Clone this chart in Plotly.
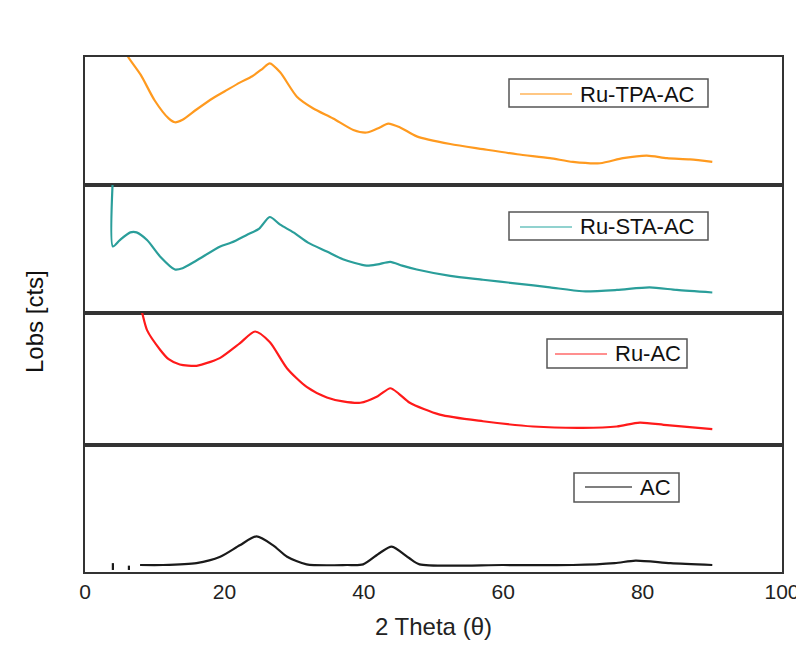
import plotly.graph_objects as go
from plotly.subplots import make_subplots

# ---- data (y in arbitrary counts, each panel 0-100) ----
tpa_x = [5.8, 6.2, 8, 10, 12, 12.9, 14, 16, 18.4, 20, 22.2, 24, 25.5, 26.5, 28, 30.4, 32.7,
         35.6, 38.5, 40.4, 42.3, 43.5, 45.2, 47.6, 52.4, 57.1, 62, 66.7, 70, 73.9, 77.2,
         80.6, 83.5, 86.8, 90]
tpa_y = [105, 100, 86, 66, 52, 49, 51, 59, 68, 73, 80, 85, 91, 95, 88, 69, 60,
         52, 43, 41, 45, 48, 45, 38, 32, 28, 24, 21, 18, 17, 21,
         23, 21, 20, 18]

sta_x = [3.95, 4.0, 5, 6.5, 7.4, 8.9, 10.8, 12.9, 14, 16, 19.4, 21, 23.2, 25, 26.5, 28,
         29.9, 32, 34.7, 37, 40.4, 42, 43.8, 45.5, 47.6, 52.4, 57.1, 62, 66.7, 71.4,
         76.3, 81, 84.9, 90]
sta_y = [100, 52, 57, 63, 63, 57, 44, 34, 35, 41, 52, 55, 61, 66, 75, 69,
         63, 55, 48, 42, 37, 38, 40, 37, 34, 29, 26, 23, 20, 17,
         18, 20, 18, 16]

ru_x = [8.0, 8.2, 8.9, 10.8, 12, 13.6, 16, 18, 19.4, 22.2, 24.4, 26.5, 29, 31.8, 34.7,
        37, 39.5, 42, 43.8, 45, 46.6, 50.9, 57.1, 64.3, 71.4, 76.3, 79.6, 83.5, 90]
ru_y = [103, 100, 87, 72, 65, 61, 60, 63, 66, 77, 86, 78, 58, 44, 36,
        33, 32, 37, 43, 39, 32, 23, 18, 14, 13, 14, 17, 15, 12]

ac_x = [4.0, 4.0, None, 6.3, 6.3, None, 7.9, 11.2, 16, 19.4, 22.2, 24.6, 27, 29, 31.8,
        37.6, 39.9, 42.3, 44, 46.5, 48, 60, 70, 76, 79, 84, 90]
ac_y = [1.6, 7, None, 1.6, 5, None, 5.5, 5.5, 7, 12, 21, 28, 21, 12, 6,
        5.5, 6, 15, 20, 11, 6, 5.5, 5.5, 7, 9, 7, 5.5]

names = ["Ru-TPA-AC", "Ru-STA-AC", "Ru-AC", "AC"]
colors = ["#FF9A1F", "#2A9E9A", "#FF1A1A", "#1A1A1A"]
legend_line_colors = ["#FFB55A", "#6CC3BF", "#FF6A6A", "#555555"]
x_ticks = [0, 20, 40, 60, 80, 100]

series = [(tpa_x, tpa_y), (sta_x, sta_y), (ru_x, ru_y), (ac_x, ac_y)]

fig = make_subplots(rows=4, cols=1, shared_xaxes=True, vertical_spacing=0,
                    row_heights=[128, 128, 132, 127])

for i, ((xs, ys), nm, col) in enumerate(zip(series, names, colors)):
    fig.add_trace(go.Scatter(x=xs, y=ys, mode="lines", name=nm,
                             line=dict(color=col, width=2.2, shape="spline", smoothing=0.7),
                             connectgaps=False, showlegend=False),
                  row=i + 1, col=1)

font_family = "Liberation Sans, Arial, sans-serif"

# boxed legend entries (pixel layout of reference: plot area x 85..782, y 57..572)
def px(x):
    return (x - 85) / 697.0

def py(y):
    return (572 - y) / 515.0

legend_boxes = [  # x0, x1, y0, y1, line x0, line x1, line y, text x
    (509, 708, 79, 107, 520, 572, 94, 578),
    (509, 708, 212, 240, 520, 572, 227, 578),
    (547, 687, 339, 368, 555, 607, 354, 613),
    (574, 679, 473, 502, 585, 632, 487, 638),
]
for (x0, x1, y0, y1, lx0, lx1, ly, tx), nm, lc in zip(legend_boxes, names, legend_line_colors):
    fig.add_shape(type="rect", xref="paper", yref="paper", x0=px(x0), x1=px(x1),
                  y0=py(y1), y1=py(y0), line=dict(color="#555", width=1.5),
                  fillcolor="rgba(0,0,0,0)")
    fig.add_shape(type="line", xref="paper", yref="paper", x0=px(lx0), x1=px(lx1),
                  y0=py(ly), y1=py(ly), line=dict(color=lc, width=1.5))
    fig.add_annotation(text=nm, xref="paper", yref="paper", x=px(tx), y=py(ly),
                       xanchor="left", yanchor="middle", showarrow=False,
                       font=dict(family=font_family, size=22, color="#111"))

for r in range(1, 5):
    fig.update_yaxes(range=[0, 100], showticklabels=False, ticks="", showgrid=False,
                     zeroline=False, showline=True, mirror=True, linecolor="#333",
                     linewidth=2, automargin=False, row=r, col=1)
    fig.update_xaxes(range=[0, 100], showgrid=False, zeroline=False, showline=True,
                     mirror=True, linecolor="#333", linewidth=2, ticks="",
                     tickvals=x_ticks, automargin=False, row=r, col=1)

fig.update_xaxes(showticklabels=True, tickfont=dict(family=font_family, size=21, color="#222"),
                 title=dict(text="2 Theta (θ)", font=dict(family=font_family, size=24, color="#222"),
                            standoff=16),
                 row=4, col=1)

fig.add_annotation(text="Lobs [cts]", textangle=-90, xref="paper", yref="paper",
                   x=px(34), y=py(322), xanchor="center", yanchor="middle", showarrow=False,
                   font=dict(family=font_family, size=24, color="#111"))

fig.update_layout(width=796, height=638, plot_bgcolor="white", paper_bgcolor="white",
                  margin=dict(l=77, r=22, t=49, b=74), showlegend=False)

fig.write_html("out.html")
